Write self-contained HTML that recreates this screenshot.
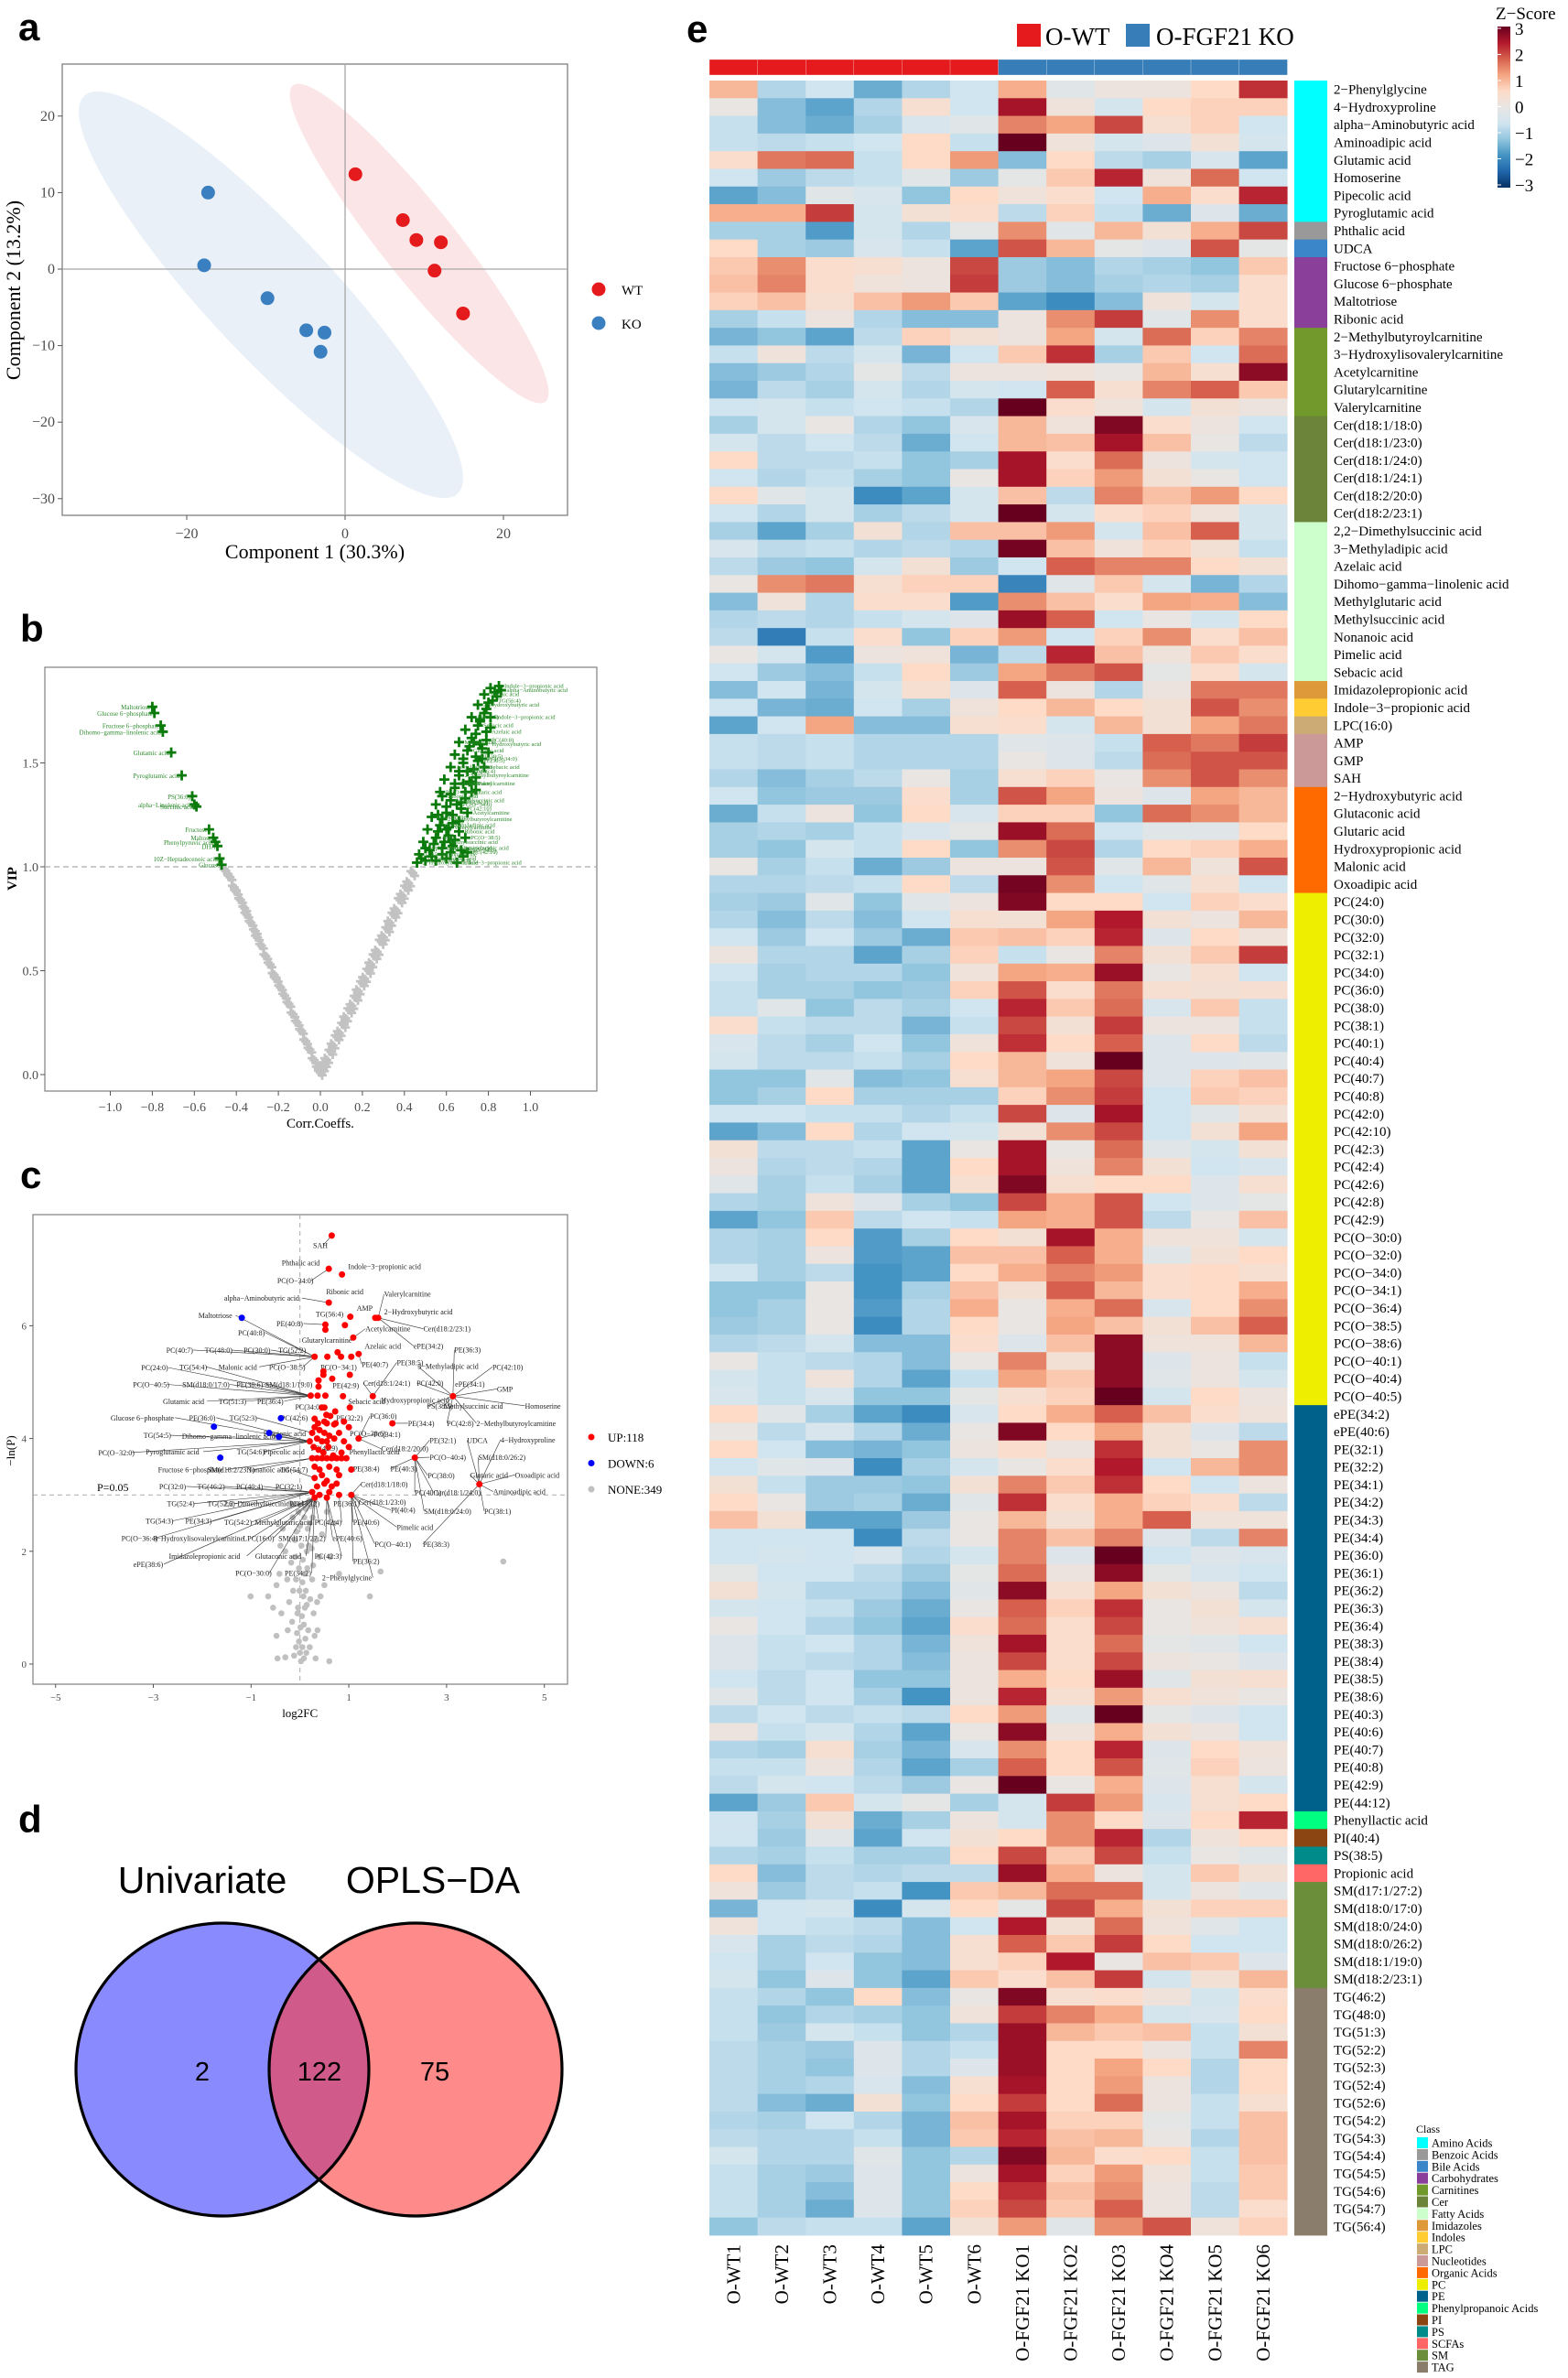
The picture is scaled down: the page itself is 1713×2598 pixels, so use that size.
<!DOCTYPE html>
<html><head><meta charset="utf-8"><title>Metabolomics figure</title>
<style>
html,body{margin:0;padding:0;background:#fff;}
svg{display:block;}
</style></head>
<body>
<svg id="fig" width="1713" height="2598" viewBox="0 0 1713 2598" xmlns="http://www.w3.org/2000/svg">
<rect x="0" y="0" width="1713" height="2598" fill="#fff"/>
<g font-family="Liberation Sans, DejaVu Sans, sans-serif" font-weight="bold" font-size="42" fill="#000">
<text x="20" y="44">a</text>
<text x="22" y="701">b</text>
<text x="22" y="1298">c</text>
<text x="20" y="2002">d</text>
<text x="750" y="46">e</text>
</g>
<g id="pa"></g>
<g id="pb"></g>
<g id="pc"></g>
<g id="pd"></g>
<g id="pe"></g>
</svg>
<script>
// ---------- Panel a data ----------
const aWTx=[1.3,7.3,9.0,12.1,11.3,14.9];
const aWTy=[12.4,6.4,3.8,3.5,-0.2,-5.8];
const aKOx=[-17.3,-17.8,-9.8,-4.9,-2.6,-3.1];
const aKOy=[10.0,0.5,-3.8,-8.0,-8.3,-10.8];
const aXTicks=[-20,0,20];
const aYTicks=[20,10,0,-10,-20,-30];
// ---------- Panel b data ----------
const bGreyCorr=[-0.45,-0.43,-0.41,-0.40,-0.38,-0.36,-0.35,-0.33,-0.31,-0.30,-0.28,-0.26,-0.24,-0.22,-0.21,-0.19,-0.17,-0.15,-0.13,-0.11,-0.09,-0.07,-0.05,-0.03,-0.01,0.0,0.01,0.02,0.03,0.05,0.06,0.08,0.09,0.11,0.12,0.14,0.15,0.17,0.18,0.20,0.21,0.23,0.24,0.26,0.27,0.29,0.30,0.32,0.33,0.35,0.36,0.38,0.39,0.41,0.42,0.44];
const bGreyVip=[0.98,0.95,0.90,0.88,0.84,0.80,0.77,0.73,0.69,0.66,0.62,0.57,0.53,0.48,0.46,0.42,0.38,0.34,0.29,0.25,0.21,0.16,0.12,0.07,0.03,0.01,0.03,0.05,0.07,0.11,0.14,0.18,0.20,0.24,0.27,0.31,0.33,0.37,0.40,0.44,0.46,0.50,0.53,0.57,0.59,0.64,0.66,0.70,0.73,0.77,0.79,0.84,0.86,0.90,0.92,0.97];
const bLeftNames=["Maltotriose","Glucose 6−phosphate","Fructose 6−phosphate","Dihomo−gamma−linolenic acid","Glutamic acid","Pyroglutamic acid","PS(36:6)","alpha−Linolenic acid","Succinic acid","Fructose","Maltose","Phenylpyruvic acid","DHA","10Z−Heptadecenoic acid","Glucose"];
const bLeftCorr=[-0.80,-0.79,-0.76,-0.75,-0.71,-0.66,-0.61,-0.60,-0.59,-0.53,-0.51,-0.50,-0.49,-0.48,-0.47];
const bLeftVip=[1.77,1.74,1.68,1.65,1.55,1.44,1.34,1.30,1.29,1.18,1.14,1.12,1.10,1.04,1.01];
const bRightCorr=[0.46,0.50,0.55,0.60,0.65,0.68,0.47,0.52,0.58,0.63,0.67,0.49,0.55,0.61,0.66,0.51,0.57,0.63,0.53,0.60,0.67,0.55,0.62,0.69,0.57,0.64,0.72,0.59,0.66,0.74,0.62,0.68,0.75,0.64,0.70,0.77,0.66,0.72,0.79,0.69,0.75,0.81,0.72,0.78,0.75,0.80,0.78,0.83,0.85,0.81,0.70,0.60,0.50,0.56,0.65,0.73,0.68,0.62,0.58,0.76,
0.48,0.53,0.58,0.62,0.70,0.54,0.59,0.64,0.69,0.56,0.61,0.66,0.58,0.63,0.70,0.60,0.67,0.62,0.69,0.74,0.64,0.71,0.66,0.73,0.78,0.68,0.74,0.71,0.76,0.74,0.79,0.76,0.81,0.79,0.82,0.84,0.86,0.72,0.77,0.80];
const bRightVip=[1.02,1.03,1.03,1.04,1.02,1.05,1.06,1.08,1.09,1.10,1.08,1.12,1.14,1.15,1.17,1.18,1.20,1.21,1.24,1.26,1.28,1.30,1.32,1.33,1.36,1.38,1.40,1.42,1.44,1.43,1.48,1.50,1.51,1.54,1.56,1.57,1.60,1.62,1.61,1.66,1.68,1.67,1.72,1.74,1.78,1.79,1.83,1.84,1.87,1.86,1.46,1.18,1.09,1.25,1.30,1.60,1.40,1.12,1.34,1.70,
1.04,1.05,1.06,1.07,1.07,1.11,1.12,1.13,1.14,1.17,1.19,1.22,1.23,1.25,1.26,1.29,1.31,1.35,1.36,1.37,1.40,1.41,1.46,1.47,1.48,1.52,1.53,1.58,1.59,1.64,1.65,1.71,1.72,1.76,1.80,1.82,1.85,1.36,1.52,1.55];
const bRightNames=["2−Hydroxybutyric acid","Azelaic acid","Indole−3−propionic acid","TG(56:4)","alpha−Aminobutyric acid","PC(O−34:0)","AMP","Ribonic acid","3−Methyladipic acid","Homoserine","PC(42:10)","Methylsuccinic acid","PC(O−38:5)","Valerylcarnitine","2−Methylbutyroylcarnitine","Acetylcarnitine","PE(36:3)","Glutaric acid","Malonic acid","PC(40:8)","Sebacic acid","PE(38:5)"];
const bXTicks=[-1.0,-0.8,-0.6,-0.4,-0.2,0.0,0.2,0.4,0.6,0.8,1.0];
const bYTicks=[0.0,0.5,1.0,1.5];
// ---------- Panel c data ----------
const cRedFc=[0.65,0.59,0.86,0.59,1.03,1.54,1.60,0.52,0.52,0.92,1.09,0.30,0.56,0.77,0.84,1.05,1.20,0.48,0.48,0.66,1.02,0.38,0.38,0.22,0.36,0.52,0.88,1.49,3.13,0.50,0.54,0.72,1.02,0.37,0.55,0.73,1.89,2.35,3.67,0.25,0.30,0.35,0.40,0.45,0.50,0.55,0.60,0.70,0.80,0.90,0.28,0.38,0.48,0.58,0.68,0.85,0.25,0.35,0.45,0.55,0.65,0.75,0.85,0.95,0.30,0.40,0.60,0.75,1.05,0.30,0.45,0.55,0.80,0.35,0.50,0.65,0.75,0.25,0.40,0.60,0.80,1.05,0.30,0.50,0.90,1.00,0.20,1.00,0.70,1.20,0.62,0.45,0.30,0.55];
const cRedP=[7.60,7.01,6.91,6.41,6.16,6.14,6.14,6.02,5.93,6.01,5.79,5.45,5.45,5.53,5.45,5.45,5.50,5.19,5.13,5.06,5.13,5.03,4.92,4.76,4.76,4.76,4.75,4.75,4.75,4.55,4.42,4.48,4.55,4.27,4.27,4.27,4.27,3.66,3.19,4.10,4.20,4.00,4.15,3.95,4.10,3.95,4.05,4.00,4.10,3.95,3.85,3.80,3.75,3.85,3.70,3.75,3.65,3.65,3.65,3.65,3.65,3.65,3.65,3.65,3.50,3.45,3.50,3.45,3.45,3.30,3.35,3.25,3.35,3.15,3.20,3.15,3.20,3.05,3.00,3.05,3.00,3.00,4.35,4.30,4.30,4.20,3.95,3.85,4.25,4.00,4.40,4.55,2.95,2.95];
const cBlueFc=[-1.19,-0.39,-1.76,-0.63,-0.43,-1.63];
const cBlueP=[6.14,4.36,4.21,4.10,4.03,3.66];
const cGreyFc=[-1.01,-0.65,-0.48,-0.55,-0.42,-0.38,-0.48,-0.46,-0.30,-0.25,-0.22,-0.18,-0.30,-0.35,-0.15,-0.10,-0.08,-0.05,-0.02,0.0,0.02,0.05,0.08,0.1,0.12,0.15,0.18,0.2,0.22,0.25,0.28,0.3,0.32,0.35,0.4,0.45,0.5,0.55,0.6,0.62,0.7,0.8,1.43,1.65,4.16,-0.12,-0.06,0.04,0.07,0.1,0.14,0.16,0.19,-0.2,-0.03,0.0,0.03,0.06,-0.01,-0.04,0.11,0.13,0.17,0.21,0.24,-0.1,-0.14,-0.16,0.26,0.3,-0.26,0.09,0.36,0.42,-0.4,0.01,0.08,-0.08,0.2,0.14,0.05,-0.02,0.27,0.33,-0.07,0.12];
const cGreyP=[1.2,1.2,1.4,1.0,1.6,0.9,0.5,0.1,0.12,0.6,1.1,1.8,2.0,2.4,2.6,2.2,1.5,0.9,0.4,0.2,0.05,0.3,0.7,1.0,1.3,1.7,2.1,2.5,2.8,1.5,0.9,0.5,0.1,1.1,1.9,2.3,1.4,2.7,0.05,1.9,2.5,1.6,1.2,1.64,1.82,0.15,0.55,0.85,1.2,1.6,2.0,2.4,2.9,2.85,2.7,2.45,2.1,1.85,1.3,1.0,0.45,0.2,0.6,1.15,2.05,1.9,1.3,0.75,2.6,2.9,1.5,2.6,0.6,1.2,2.1,0.65,0.1,0.3,0.3,1.05,1.45,1.7,1.75,2.2,2.35,2.75];
const cXTicks=[-5,-3,-1,1,3,5];
const cYTicks=[0,2,4,6];
const cLabelText=["SAH","Phthalic acid","Indole−3−propionic acid","PC(O−34:0)","Ribonic acid","Valerylcarnitine","alpha−Aminobutyric acid","AMP","2−Hydroxybutyric acid","Maltotriose","TG(56:4)","PE(40:8)","Acetylcarnitine","Cer(d18:2/23:1)","PC(40:8)","Glutarylcarnitine","Azelaic acid","ePE(34:2)","PE(36:3)","PC(40:7)","TG(48:0)","PC(30:0)","TG(52:2)","PC(24:0)","TG(54:4)","Malonic acid","PC(O−38:5)","PC(O−34:1)","PE(40:7)","PE(38:5)","3−Methyladipic acid","PC(42:10)","PC(O−40:5)","SM(d18:0/17:0)","PE(38:6)","SM(d18:1/19:0)","PE(42:9)","Cer(d18:1/24:1)","PC(42:0)","ePE(34:1)","GMP","Glutamic acid","TG(51:3)","PE(36:4)","Sebacic acid","Hydroxypropionic acid","PC(34:0)","PS(38:5)","Methylsuccinic acid","Homoserine","Glucose 6−phosphate","PE(36:0)","TG(52:3)","PC(42:6)","PE(32:2)","PC(36:0)","PE(34:4)","PC(42:8)","2−Methylbutyroylcarnitine","TG(54:5)","Dihomo−gamma−linolenic acid","Propionic acid","PC(O−38:6)","PC(34:1)","PE(32:1)","UDCA","4−Hydroxyproline","PC(O−32:0)","Pyroglutamic acid","TG(54:6)","Pipecolic acid","PC(42:9)","Phenyllactic acid","Cer(d18:2/20:0)","PC(O−40:4)","SM(d18:0/26:2)","Fructose 6−phosphate","SM(d18:2/23:1)","Nonanoic acid","TG(54:7)","PE(38:4)","PE(40:3)","PC(38:0)","Glutaric acid","Oxoadipic acid","PC(32:0)","TG(46:2)","PC(40:4)","PC(32:1)","Cer(d18:1/18:0)","PC(40:1)","Cer(d18:1/24:0)","Aminoadipic acid","TG(52:4)","TG(52:6)","2,2−Dimethylsuccinic acid","PE(44:12)","PE(36:1)","Cer(d18:1/23:0)","PI(40:4)","SM(d18:0/24:0)","PC(38:1)","TG(54:3)","PE(34:3)","TG(54:2)","Methylglutaric acid","PC(42:4)","PE(40:6)","Pimelic acid","PC(O−36:4)","3−Hydroxylisovalerylcarnitine","LPC(16:0)","SM(d17:1/27:2)","ePE(40:6)","PC(O−40:1)","PE(38:3)","Imidazolepropionic acid","Glutaconic acid","PC(42:3)","PE(36:2)","ePE(38:6)","PC(O−30:0)","PE(34:2)","2−Phenylglycine"];
const cLabelPos=[[838,400],[754,447],[932,457],[742,495],[873,524],[1028,531],[600,542],[955,568],[1028,578],[531,588],[845,584],[740,610],[978,624],[1133,624],[637,634],[808,654],[976,670],[1107,670],[1216,680],[445,681],[548,681],[652,681],[745,681],[378,728],[480,726],[585,726],[720,726],[858,726],[968,719],[1062,714],[1118,724],[1318,726],[356,773],[488,773],[633,773],[710,773],[890,776],[972,769],[1115,769],[1218,772],[1330,785],[436,818],[585,818],[688,818],[932,818],[1020,815],[790,833],[1143,831],[1188,831],[1405,830],[296,862],[506,862],[614,862],[752,862],[900,862],[990,858],[1092,877],[1196,877],[1275,877],[384,909],[487,911],[705,904],[936,904],[1000,907],[1150,922],[1250,922],[1340,921],[263,955],[390,953],[634,953],[705,953],[832,943],[935,953],[1020,945],[1150,968],[1280,968],[423,1001],[555,1001],[660,1001],[750,1001],[945,998],[1045,998],[1145,1017],[1258,1015],[1378,1015],[426,1046],[528,1046],[632,1046],[737,1046],[965,1040],[1110,1062],[1160,1062],[1320,1060],[447,1092],[555,1092],[600,1092],[775,1092],[892,1092],[960,1088],[1046,1109],[1135,1112],[1296,1112],[390,1138],[496,1138],[600,1142],[682,1142],[842,1142],[945,1142],[1062,1155],[325,1184],[410,1184],[650,1184],[745,1184],[890,1184],[1003,1200],[1132,1200],[452,1232],[683,1232],[842,1232],[945,1246],[357,1254],[630,1278],[762,1278],[862,1290]];
// ---------- Panel d data ----------
const vennNames=["Univariate","OPLS−DA"];
const vennCounts=[2,122,75];
// ---------- Panel e data ----------
const heatCols=["O-WT1","O-WT2","O-WT3","O-WT4","O-WT5","O-WT6","O-FGF21 KO1","O-FGF21 KO2","O-FGF21 KO3","O-FGF21 KO4","O-FGF21 KO5","O-FGF21 KO6"];
const heatGroups=[0,0,0,0,0,0,1,1,1,1,1,1];
const heatRows=["2−Phenylglycine","4−Hydroxyproline","alpha−Aminobutyric acid","Aminoadipic acid","Glutamic acid","Homoserine","Pipecolic acid","Pyroglutamic acid","Phthalic acid","UDCA","Fructose 6−phosphate","Glucose 6−phosphate","Maltotriose","Ribonic acid","2−Methylbutyroylcarnitine","3−Hydroxylisovalerylcarnitine","Acetylcarnitine","Glutarylcarnitine","Valerylcarnitine","Cer(d18:1/18:0)","Cer(d18:1/23:0)","Cer(d18:1/24:0)","Cer(d18:1/24:1)","Cer(d18:2/20:0)","Cer(d18:2/23:1)","2,2−Dimethylsuccinic acid","3−Methyladipic acid","Azelaic acid","Dihomo−gamma−linolenic acid","Methylglutaric acid","Methylsuccinic acid","Nonanoic acid","Pimelic acid","Sebacic acid","Imidazolepropionic acid","Indole−3−propionic acid","LPC(16:0)","AMP","GMP","SAH","2−Hydroxybutyric acid","Glutaconic acid","Glutaric acid","Hydroxypropionic acid","Malonic acid","Oxoadipic acid","PC(24:0)","PC(30:0)","PC(32:0)","PC(32:1)","PC(34:0)","PC(36:0)","PC(38:0)","PC(38:1)","PC(40:1)","PC(40:4)","PC(40:7)","PC(40:8)","PC(42:0)","PC(42:10)","PC(42:3)","PC(42:4)","PC(42:6)","PC(42:8)","PC(42:9)","PC(O−30:0)","PC(O−32:0)","PC(O−34:0)","PC(O−34:1)","PC(O−36:4)","PC(O−38:5)","PC(O−38:6)","PC(O−40:1)","PC(O−40:4)","PC(O−40:5)","ePE(34:2)","ePE(40:6)","PE(32:1)","PE(32:2)","PE(34:1)","PE(34:2)","PE(34:3)","PE(34:4)","PE(36:0)","PE(36:1)","PE(36:2)","PE(36:3)","PE(36:4)","PE(38:3)","PE(38:4)","PE(38:5)","PE(38:6)","PE(40:3)","PE(40:6)","PE(40:7)","PE(40:8)","PE(42:9)","PE(44:12)","Phenyllactic acid","PI(40:4)","PS(38:5)","Propionic acid","SM(d17:1/27:2)","SM(d18:0/17:0)","SM(d18:0/24:0)","SM(d18:0/26:2)","SM(d18:1/19:0)","SM(d18:2/23:1)","TG(46:2)","TG(48:0)","TG(51:3)","TG(52:2)","TG(52:3)","TG(52:4)","TG(52:6)","TG(54:2)","TG(54:3)","TG(54:4)","TG(54:5)","TG(54:6)","TG(54:7)","TG(56:4)"];
const heatClassIdx=[0,0,0,0,0,0,0,0,1,2,3,3,3,3,4,4,4,4,4,5,5,5,5,5,5,6,6,6,6,6,6,6,6,6,7,8,9,10,10,10,11,11,11,11,11,11,12,12,12,12,12,12,12,12,12,12,12,12,12,12,12,12,12,12,12,12,12,12,12,12,12,12,12,12,12,13,13,13,13,13,13,13,13,13,13,13,13,13,13,13,13,13,13,13,13,13,13,13,14,15,16,17,18,18,18,18,18,18,19,19,19,19,19,19,19,19,19,19,19,19,19,19];
const classNames=["Amino Acids","Benzoic Acids","Bile Acids","Carbohydrates","Carnitines","Cer","Fatty Acids","Imidazoles","Indoles","LPC","Nucleotides","Organic Acids","PC","PE","Phenylpropanoic Acids","PI","PS","SCFAs","SM","TAG"];
const classColors=["#00ffff","#999999","#3b86c8","#8a3f9a","#72992c","#6b843a","#ccffcc","#de9a3a","#ffcc33","#cdab75","#cc9999","#ff6a00","#eeee00","#00618a","#00ff80","#8b4513","#008b8b","#ff6666","#6b8e3a","#8b7d6b"];
const zTicks=[3,2,1,0,-1,-2,-3];
const heatValues=[
[1.0,-0.9,-0.6,-1.5,-0.9,-0.6,1.1,-0.2,0.1,0.1,0.6,2.2],
[0,-1.3,-1.6,-0.9,0.4,-0.6,2.5,0.2,-0.5,0.6,0.7,0.7],
[-0.7,-1.3,-1.5,-1.0,-0.4,-0.2,1.5,1.2,2.0,0.4,0.7,-0.6],
[-0.7,-0.8,-0.7,-0.6,0.6,-0.7,3.0,0.2,-0.5,-0.3,0.3,-0.5],
[0.5,1.6,1.7,-0.7,0.6,1.3,-1.3,0.6,-0.8,-1.0,-0.4,-1.6],
[-0.6,-1.1,-0.8,-0.7,-0.2,-1.1,-0.1,0.8,2.3,0.2,1.7,-0.6],
[-1.6,-1.3,-0.2,-0.4,-1.2,0.6,0.2,0.5,-0.6,1.1,0.5,2.3],
[1.1,1.1,2.1,-0.5,0.3,0.5,-0.8,0.7,-0.7,-1.5,-0.3,-1.5],
[-1.0,-1.0,-1.7,-0.5,-0.9,-0.1,1.4,-0.2,1.0,0.3,1.1,2.0],
[0.6,-1.0,-1.1,-0.4,-0.7,-1.6,1.9,1.0,-0.1,-0.3,1.9,-0.1],
[0.8,1.4,0.5,0.4,0.1,2.0,-1.1,-1.3,-0.9,-1.0,-1.2,0.8],
[0.9,1.5,0.5,0.2,0.1,2.1,-1.1,-1.3,-1.0,-0.9,-1.0,0.5],
[0.7,0.9,0.4,0.9,1.3,0.8,-1.6,-1.9,-1.3,0.2,-0.5,0.5],
[-1.0,-0.7,0.1,-0.9,-1.3,-1.3,0.1,1.4,2.1,-0.2,1.4,0.5],
[-1.4,-1.2,-1.6,-0.8,0.7,0.3,0.1,1.2,-0.5,1.7,0.7,1.5],
[-0.7,0.2,-0.8,-0.5,-1.4,-0.6,0.8,2.2,-1.0,0.8,-0.6,1.7],
[-1.3,-1.1,-0.9,-0.1,-0.8,0.1,0.1,0.2,0.0,1.0,0.4,2.7],
[-1.4,-0.8,-1.0,-0.5,-0.9,-0.5,-0.6,1.8,0.4,1.5,1.8,0.8],
[-0.6,-0.5,-0.7,-0.6,-0.7,-0.9,3.0,0.5,0.2,-0.5,0.3,0.1],
[-1.0,-0.5,0.0,-0.9,-1.2,-0.4,1.0,0.2,2.8,0.5,0.1,-0.6],
[-0.5,-0.8,-0.6,-0.8,-1.5,-0.6,1.0,0.9,2.5,0.9,0.0,-0.8],
[0.6,-0.8,-0.8,-0.7,-1.2,-1.0,2.5,0.5,1.7,0.1,-0.5,-0.6],
[-0.6,-0.9,-0.7,-1.0,-1.2,0.0,2.5,0.7,1.3,0.3,0.0,-0.6],
[0.6,-0.2,-0.5,-1.9,-1.6,-0.5,0.9,-0.8,1.5,0.9,1.3,0.6],
[-0.6,-0.9,-0.5,-1.0,-0.8,-0.5,3.0,-0.5,0.5,0.7,0.2,-0.5],
[-1.0,-1.6,-1.0,0.3,-0.9,0.9,0.9,1.3,-0.5,0.9,1.8,-0.5],
[-0.4,-0.8,-0.7,-0.9,-0.8,-0.9,2.9,0.9,0.2,0.7,0.3,-0.7],
[-0.8,-1.1,-1.2,-0.5,0.3,-1.1,-0.6,1.8,1.5,1.5,0.6,0.3],
[0.0,1.4,1.6,0.4,0.7,0.7,-2.0,-0.2,0.8,-0.5,-1.4,-0.9],
[-1.3,0.2,-0.9,0.5,0.5,-1.7,1.4,0.9,0.5,1.2,1.1,-1.3],
[-0.9,-0.8,-0.9,-0.7,-0.5,-0.3,2.6,1.8,-0.6,0.0,-0.5,0.6],
[-0.8,-2.1,-0.7,0.5,-1.2,0.7,1.3,-0.6,0.7,1.4,0.5,0.9],
[0.0,-0.5,-1.7,0.1,0.2,-1.4,-0.8,2.3,0.9,0.2,0.8,0.5],
[-0.6,-1.1,-1.3,-0.7,0.6,-1.1,1.2,1.6,1.9,-0.1,0.5,-0.5],
[-1.3,-0.6,-1.4,-0.5,0.4,-0.3,1.8,0.1,-0.9,0.1,1.6,1.6],
[-0.6,-1.4,-1.5,-0.6,-1.0,0.2,0.6,1.0,0.6,0.3,1.9,1.4],
[-1.6,-0.6,1.2,-1.3,-1.3,0.4,0.5,-0.5,1.0,0.3,1.2,1.6],
[-0.7,-0.8,-0.7,-0.9,-0.9,-0.9,-0.2,-0.3,-0.7,1.8,1.6,2.1],
[-0.7,-0.8,-0.7,-0.9,-0.9,-0.9,0.0,-0.3,-0.8,1.7,1.9,1.9],
[-0.9,-1.3,-1.0,-0.8,0.0,-1.0,0.4,0.7,0.0,1.4,1.9,1.4],
[-0.6,-1.2,-1.1,-1.1,0.5,-1.0,1.9,1.2,0.1,-0.3,1.2,1.0],
[-1.5,-0.7,0.1,-1.2,0.6,-0.4,0.7,0.7,-1.2,1.7,1.4,1.0],
[-1.0,-0.9,-1.0,-0.7,-0.4,-0.1,2.6,1.7,-0.6,-0.2,-0.2,0.6],
[-1.0,-1.2,-0.5,-0.7,0.6,-1.2,1.4,2.0,-0.9,0.6,0.7,1.1],
[0.0,-1.0,-0.7,-1.5,-1.1,0.1,0.1,1.9,-0.2,1.0,0.2,1.9],
[-0.9,-0.9,-0.8,-0.7,0.6,-0.8,2.9,1.4,-0.6,-0.2,0.4,-0.6],
[-1.0,-1.1,-0.2,-1.2,-0.2,0.1,2.8,0.6,0.6,-0.6,0.7,0.5],
[-0.9,-1.3,-0.8,-1.3,-0.6,0.4,0.3,1.2,2.4,0.3,0.1,1.0],
[-0.6,-1.1,-0.6,-1.1,-1.5,0.8,0.9,0.7,2.3,-0.3,0.6,0.2],
[0.1,-0.9,-0.9,-1.6,-1.0,0.7,-0.7,0.0,1.5,0.3,0.8,2.1],
[-0.6,-1.0,-0.9,-0.9,-1.2,0.2,1.2,1.1,2.6,0.0,0.4,-0.6],
[-0.7,-1.0,-1.0,-1.2,-1.1,0.7,1.9,0.5,1.6,0.4,0.3,0.4],
[-0.7,-0.2,-1.2,-0.8,-1.0,-0.6,2.3,0.8,1.7,-0.4,0.8,-0.7],
[0.5,-0.7,-0.8,-0.8,-1.4,-0.7,2.0,0.3,2.1,0.1,0.1,-0.7],
[-0.4,-0.8,-1.0,-0.6,-1.2,0.2,2.2,0.6,1.8,-0.3,0.6,-0.8],
[-0.5,-0.8,-0.8,-0.7,-1.0,0.6,1.0,0.2,3.0,-0.3,-0.3,-0.2],
[-1.2,-1.2,-0.2,-1.3,-1.2,0.4,1.0,1.2,2.0,-0.3,0.7,0.9],
[-1.2,-1.0,0.6,-1.0,-1.0,-1.0,0.7,1.4,2.1,-0.6,0.8,0.7],
[-0.6,-0.6,-0.7,-0.7,-0.9,-0.7,2.0,-0.3,2.5,-0.6,-0.2,0.3],
[-1.6,-1.3,0.6,-0.9,-0.6,-0.5,0.3,1.4,2.0,-0.6,0.3,1.2],
[0.3,-0.8,-0.8,-0.7,-1.6,0.0,2.5,0.0,1.7,-0.2,-0.5,0.3],
[0.1,-0.9,-0.8,-0.9,-1.6,0.6,2.5,0.2,1.5,0.3,-0.6,-0.4],
[-0.2,-1.0,-0.7,-1.0,-1.6,0.4,2.8,0.4,0.6,0.6,-0.3,0.4],
[-0.9,-1.0,0.2,-0.3,-1.0,-1.2,2.0,1.1,1.9,-0.6,-0.3,-0.1],
[-1.6,-1.2,0.8,-0.8,-0.6,-0.7,1.2,1.1,1.9,-0.8,0.0,0.9],
[-0.9,-1.0,0.6,-1.7,-1.0,0.6,0.3,2.5,1.1,0.2,0.2,-0.5],
[-0.9,-1.0,0.1,-1.7,-1.6,0.9,0.9,1.8,1.1,-0.2,0.3,0.6],
[-0.6,-1.0,-0.8,-1.8,-1.6,0.6,1.1,1.5,1.3,0.5,0.6,0.4],
[-1.2,-1.2,0.0,-1.8,-1.0,0.9,0.3,1.8,1.0,0.5,0.6,1.1],
[-1.2,-1.0,0.0,-1.7,-0.9,1.1,0.0,1.1,1.7,-0.4,0.6,1.4],
[-1.1,-1.0,0.0,-1.9,-0.9,0.6,0.0,1.2,0.9,0.3,0.9,1.8],
[-0.9,-0.8,-0.5,-1.3,-1.3,0.5,-0.3,0.9,2.7,0.2,0.2,1.0],
[0.0,-0.7,-0.8,-0.9,-1.3,0.0,1.5,0.3,2.7,-0.3,0.1,-0.7],
[-0.5,-0.7,0.2,-0.9,-1.6,-0.7,1.2,0.8,2.7,-0.2,0.1,-0.5],
[-0.4,-0.7,-0.4,-1.2,-1.2,-0.1,0.4,0.7,3.0,-0.5,0.6,0.1],
[0.6,-0.2,-1.0,-1.6,-1.9,-0.4,0.6,1.1,1.8,0.9,0.5,0.2],
[0.0,-0.8,-0.4,-0.9,-1.5,0.0,2.8,0.6,1.2,0.3,-0.3,-0.8],
[0.6,-0.6,-1.3,-1.4,-1.2,0.1,0.5,0.1,2.2,0.3,0.0,1.4],
[-0.6,-0.2,-0.3,-1.9,-1.0,-0.5,0.0,0.5,2.4,-0.6,1.0,1.4],
[0.3,-0.7,-1.1,-1.1,-1.2,0.3,1.5,0.8,2.2,0.6,-0.6,0.1],
[0.6,0.0,-1.1,-1.0,-1.5,-0.2,2.2,0.5,1.1,0.7,0.5,-0.8],
[0.9,0.3,-1.6,-1.6,-1.1,0.0,1.0,0.3,1.1,1.8,0.2,0.2],
[-0.6,-0.6,-0.6,-1.9,-0.8,0.0,1.5,0.9,1.5,-0.3,-0.8,1.5],
[-0.6,-0.5,-0.6,-0.4,-0.9,-0.5,1.5,-0.3,3.0,-0.6,-0.3,-0.4],
[-0.1,-0.6,-0.6,-0.8,-1.1,-0.1,1.7,0.1,2.7,-0.1,-0.4,-0.6],
[0.3,-0.5,-0.9,-0.9,-1.3,-0.2,2.7,0.4,1.2,0.3,0.1,-0.8],
[-0.5,-0.6,-0.7,-1.1,-1.5,0.0,1.8,0.7,2.2,0.0,0.3,-0.5],
[0.0,-0.6,-0.9,-1.2,-1.6,0.5,1.7,0.5,2.0,0.0,0.2,0.4],
[-0.3,-0.7,-0.6,-0.9,-1.4,0.2,2.5,0.5,1.7,-0.1,-0.2,-0.6],
[-0.3,-0.7,-0.8,-0.9,-1.3,0.1,2.0,0.5,2.0,0.1,0.0,-0.3],
[-0.6,-0.8,-0.6,-1.2,-1.2,0.1,1.1,0.6,2.6,-0.2,0.3,0.4],
[-0.2,-0.8,-0.6,-1.0,-1.8,0.1,2.3,0.4,1.3,0.4,0.2,0.0],
[-0.8,-0.6,-0.8,-0.7,-0.8,0.6,1.3,-0.2,3.0,-0.1,-0.3,-0.6],
[0.1,-0.7,-0.5,-0.9,-1.6,0.0,2.7,0.2,1.1,0.3,0.1,-0.6],
[-0.9,-1.0,0.4,-1.0,-1.4,-0.4,1.4,0.6,2.3,-0.3,0.6,0.2],
[-0.7,-0.7,0.1,-0.9,-1.6,-1.0,1.8,0.6,1.9,-0.2,0.7,0.1],
[-0.8,-0.5,-0.6,-0.8,-1.1,0.0,3.0,0.0,1.1,-0.3,0.4,-0.5],
[-1.6,-1.1,0.8,-0.5,-0.1,-1.0,-0.5,2.1,1.3,-0.4,0.4,0.6],
[-0.6,-1.0,0.3,-1.5,-1.0,0.1,-0.5,1.4,0.6,-0.3,0.6,2.3],
[-0.6,-1.1,-0.2,-1.6,-0.6,0.3,0.6,1.4,2.3,-0.9,0.2,0.6],
[-0.9,-1.0,-0.7,-1.0,-1.0,0.6,2.0,0.8,2.0,-0.7,0.0,-0.2],
[0.6,-1.3,-0.8,-0.9,-0.8,-0.8,2.6,1.1,0.1,-0.5,0.8,0.3],
[0.2,-1.1,-0.8,-0.7,-1.8,0.8,1.0,1.7,1.7,-0.5,0.1,-0.2],
[-1.4,-0.6,-0.5,-1.9,-0.5,0.6,-0.1,2.0,1.1,0.3,0.7,0.7],
[0.2,-0.6,-0.7,-0.8,-1.3,-0.6,2.4,0.3,1.7,0.2,-0.2,-0.6],
[-0.4,-1.0,-0.8,-0.9,-1.3,0.4,1.8,0.8,2.1,0.6,-0.6,-0.6],
[-0.6,-1.0,-0.6,-1.2,-1.3,0.4,0.7,2.4,0.0,0.9,0.8,-0.3],
[-0.5,-1.2,-0.3,-1.2,-1.6,0.8,0.5,0.9,2.1,-0.5,0.3,1.0],
[-0.7,-0.9,-1.2,0.6,-1.3,0.0,2.8,0.4,0.5,0.2,-0.5,0.5],
[-0.7,-1.2,-0.9,-1.0,-1.2,0.2,2.1,1.5,1.1,-0.5,-0.4,0.6],
[-0.7,-1.1,-0.5,-0.7,-1.2,-0.9,2.6,1.0,0.8,0.9,-0.7,0.3],
[-0.8,-1.0,-1.1,-0.3,-0.9,-0.7,2.6,0.6,0.6,0.1,-0.7,1.5],
[-0.8,-1.0,-1.2,-0.3,-0.9,-0.3,2.6,0.6,1.2,0.6,-0.9,0.6],
[-0.8,-1.0,-0.9,-0.4,-1.3,0.4,2.5,0.6,1.3,0.1,-0.9,0.6],
[-0.8,-1.3,-1.5,0.3,-1.2,0.6,2.1,0.6,1.7,0.1,-0.7,0.4],
[-0.9,-1.0,-0.6,-0.9,-1.4,0.9,2.5,0.7,0.7,-0.1,-0.7,0.9],
[-0.8,-0.9,-0.9,-0.7,-1.4,0.8,2.3,0.9,1.0,0.0,-0.9,0.9],
[-0.5,-0.9,-0.9,-0.2,-1.2,-0.9,2.8,1.0,0.5,0.6,-0.7,0.9],
[-0.7,-1.0,-1.1,-0.3,-1.2,0.1,2.5,0.7,1.3,0.2,-0.7,0.8],
[-0.7,-1.0,-1.3,-0.3,-1.2,0.6,2.2,0.9,1.4,0.1,-0.8,0.8],
[-0.7,-1.0,-1.5,-0.3,-1.2,0.7,2.0,0.8,1.8,0.1,-0.8,0.5],
[-1.2,-0.8,-0.7,-0.7,-1.6,0.3,1.3,-0.2,1.4,1.9,0.2,0.7]
];

const NS="http://www.w3.org/2000/svg";
function mk(tag,attrs,parent,txt){const e=document.createElementNS(NS,tag);for(const k in attrs)e.setAttribute(k,attrs[k]);if(txt!==undefined)e.textContent=txt;parent.appendChild(e);return e;}
const SERIF='"Liberation Serif","DejaVu Serif",serif';
const SANS='"Liberation Sans","DejaVu Sans",sans-serif';

// ================= Panel a =================
(function(){
const g=document.getElementById('pa');
const xA=v=>377+8.65*v, yA=v=>294-8.36*v;
let el;
el=mk('rect',{x:68,y:70,width:552,height:493,fill:'#fff',stroke:'#7f7f7f','stroke-width':1.3},g);


el=mk('ellipse',{cx:296,cy:322,rx:298,ry:68,fill:'#dae6f3','fill-opacity':0.6,transform:'rotate(46.8 296 322)'},g);


el=mk('ellipse',{cx:458,cy:266,rx:221,ry:40,fill:'#f9d3d5','fill-opacity':0.6,transform:'rotate(51.4 458 266)'},g);


el=mk('line',{x1:xA(0),x2:xA(0),y1:70,y2:563,stroke:'#a6a6a6','stroke-width':1.3},g);


el=mk('line',{x1:68,x2:620,y1:yA(0),y2:yA(0),stroke:'#a6a6a6','stroke-width':1.3},g);


aXTicks.forEach(t=>{
 el=mk('line',{x1:xA(t),x2:xA(t),y1:563,y2:568,stroke:'#555'},g);
 
 
 el=mk('text',{x:xA(t),y:588,'text-anchor':'middle','font-family':SERIF,'font-size':16,fill:'#4d4d4d'},g,String(t).replace('-','−'));
 
 
});
aYTicks.forEach(t=>{
 el=mk('line',{x1:63,x2:68,y1:yA(t),y2:yA(t),stroke:'#555'},g);
 
 
 el=mk('text',{x:60,y:yA(t)+5,'text-anchor':'end','font-family':SERIF,'font-size':16,fill:'#4d4d4d'},g,String(t).replace('-','−'));
 
 
});
el=mk('text',{x:344,y:610,'text-anchor':'middle','font-family':SERIF,'font-size':22},g,'Component 1 (30.3%)');


el=mk('text',{x:0,y:0,'text-anchor':'middle','font-family':SERIF,'font-size':22,transform:'translate(22 317) rotate(-90)'},g,'Component 2 (13.2%)');


aKOx.forEach((v,i)=>{
 el=mk('circle',{cx:xA(v),cy:yA(aKOy[i]),r:7.5,fill:'#3a7fbf'},g);
 
 
});
aWTx.forEach((v,i)=>{
 el=mk('circle',{cx:xA(v),cy:yA(aWTy[i]),r:7.5,fill:'#e41a1c'},g);
 
 
});
el=mk('circle',{cx:654,cy:316,r:7.5,fill:'#e41a1c'},g);


el=mk('text',{x:679,y:322,'font-family':SERIF,'font-size':15},g,'WT');


el=mk('circle',{cx:654,cy:353,r:7.5,fill:'#3a7fbf'},g);


el=mk('text',{x:679,y:359,'font-family':SERIF,'font-size':15},g,'KO');


})();

// ================= Panel b =================
(function(){
const g=document.getElementById('pb');
const xB=v=>350+229.5*v, yB=v=>1174-227*v;
let el;
el=mk('rect',{x:49,y:729,width:603,height:463,fill:'#fff',stroke:'#7f7f7f','stroke-width':1.2},g);


el=mk('line',{x1:49,x2:652,y1:yB(1),y2:yB(1),stroke:'#aaa','stroke-width':1.2,'stroke-dasharray':'6 4'},g);


function plus(x,y,col,name,s,w){
 const p=mk('path',{d:`M${x-s},${y}H${x+s}M${x},${y-s}V${y+s}`,stroke:col,'stroke-width':w,fill:'none'},g);
 
 
}
bGreyCorr.forEach((v,i)=>{plus(xB(v),yB(bGreyVip[i]),'#c2c2c2','nonsignificant-point',5,2.8);});
bGreyCorr.forEach((v,i)=>{plus(xB(v)+2,yB(bGreyVip[i])+3,'#c2c2c2','nonsignificant-point',5,2.8);});
bGreyCorr.forEach((v,i)=>{plus(xB(v)-2,yB(bGreyVip[i])-2,'#c2c2c2','nonsignificant-point',5,2.8);});
bRightCorr.forEach((v,i)=>{plus(xB(v),yB(bRightVip[i]),'#0a7a0a','vip-positive-point',5.5,2.8);});
bRightCorr.forEach((v,i)=>{
 if(i%2===0){
  const nm=bRightNames[(i/2)%bRightNames.length|0];
  el=mk('text',{x:xB(v)+6,y:yB(bRightVip[i])+2,'font-family':SERIF,'font-size':6.5,fill:'#2d8a2d'},g,nm);
  
  
 }
});
bLeftCorr.forEach((v,i)=>{
 plus(xB(v),yB(bLeftVip[i]),'#0a7a0a','vip-negative-point',5.5,2.8);
 el=mk('text',{x:xB(v)-2,y:yB(bLeftVip[i])+3,'text-anchor':'end','font-family':SERIF,'font-size':7,fill:'#2d8a2d'},g,bLeftNames[i]);
 
 
});
bXTicks.forEach(t=>{
 el=mk('line',{x1:xB(t),x2:xB(t),y1:1192,y2:1197,stroke:'#555'},g);
 
 
 el=mk('text',{x:xB(t),y:1214,'text-anchor':'middle','font-family':SERIF,'font-size':14,fill:'#4d4d4d'},g,t.toFixed(1).replace('-','−'));
 
 
});
bYTicks.forEach(t=>{
 el=mk('line',{x1:44,x2:49,y1:yB(t),y2:yB(t),stroke:'#555'},g);
 
 
 el=mk('text',{x:42,y:yB(t)+5,'text-anchor':'end','font-family':SERIF,'font-size':14,fill:'#4d4d4d'},g,t.toFixed(1));
 
 
});
el=mk('text',{x:350,y:1232,'text-anchor':'middle','font-family':SERIF,'font-size':15},g,'Corr.Coeffs.');


el=mk('text',{x:0,y:0,'text-anchor':'middle','font-family':SERIF,'font-size':15,'font-weight':'bold',transform:'translate(18 960) rotate(-90)'},g,'VIP');


})();

// ================= Panel c =================
(function(){
const g=document.getElementById('pc');
const xC=v=>327.7+53.4*v, yC=v=>1818-61.6*v;
let el;
el=mk('rect',{x:36,y:1327,width:584,height:513,fill:'#fff',stroke:'#7f7f7f','stroke-width':1.2},g);


el=mk('line',{x1:xC(0),x2:xC(0),y1:1327,y2:1840,stroke:'#aaa','stroke-width':1,'stroke-dasharray':'5 4'},g);


el=mk('line',{x1:36,x2:620,y1:yC(3.0),y2:yC(3.0),stroke:'#aaa','stroke-width':1,'stroke-dasharray':'5 4'},g);


el=mk('text',{x:106,y:1629,'font-family':SERIF,'font-size':12},g,'P=0.05');


cGreyFc.forEach((v,i)=>{
 el=mk('circle',{cx:xC(v),cy:yC(cGreyP[i]),r:3.3,fill:'#c0c0c0'},g);
 
 
});
const lg=mk('g',{},g);


cLabelText.forEach((t,i)=>{
 const lx=cLabelPos[i][0]/2.45, ly=1200+cLabelPos[i][1]/2.45;
 const w=t.length*3.7;
 const ax=lx<xC(0.5)?lx+w:lx;
 let best=0,bd=1e9;
 cRedFc.forEach((v,j)=>{const d=Math.hypot(xC(v)-ax,yC(cRedP[j])-ly);if(d<bd){bd=d;best=j;}});
 if(bd>12){
  el=mk('line',{x1:ax,y1:ly-3,x2:xC(cRedFc[best]),y2:yC(cRedP[best]),stroke:'#333','stroke-width':0.6},lg);
  
  
 }
 el=mk('text',{x:lx,y:ly,'font-family':SERIF,'font-size':8,fill:'#222'},lg,t);
 
 
});
cRedFc.forEach((v,i)=>{
 el=mk('circle',{cx:xC(v),cy:yC(cRedP[i]),r:3.5,fill:'#ff0000'},g);
 
 
});
cBlueFc.forEach((v,i)=>{
 el=mk('circle',{cx:xC(v),cy:yC(cBlueP[i]),r:3.5,fill:'#0000ff'},g);
 
 
});
cXTicks.forEach(t=>{
 el=mk('line',{x1:xC(t),x2:xC(t),y1:1840,y2:1844,stroke:'#555'},g);
 
 
 el=mk('text',{x:xC(t),y:1858,'text-anchor':'middle','font-family':SERIF,'font-size':11,fill:'#4d4d4d'},g,String(t).replace('-','−'));
 
 
});
cYTicks.forEach(t=>{
 el=mk('line',{x1:32,x2:36,y1:yC(t),y2:yC(t),stroke:'#555'},g);
 
 
 el=mk('text',{x:29,y:yC(t)+4,'text-anchor':'end','font-family':SERIF,'font-size':11,fill:'#4d4d4d'},g,String(t));
 
 
});
el=mk('text',{x:xC(0),y:1876,'text-anchor':'middle','font-family':SERIF,'font-size':13},g,'log2FC');


el=mk('text',{x:0,y:0,'text-anchor':'middle','font-family':SERIF,'font-size':13,transform:'translate(16 1585) rotate(-90)'},g,'−ln(P)');


const leg=[['#ff0000','UP:118'],['#0000ff','DOWN:6'],['#c0c0c0','NONE:349']];
leg.forEach((d,i)=>{
 el=mk('circle',{cx:646,cy:1570+28.5*i,r:3.5,fill:d[0]},g);
 
 
 el=mk('text',{x:664,y:1575+28.5*i,'font-family':SERIF,'font-size':13},g,d[1]);
 
 
});
})();

// ================= Panel d =================
(function(){
const g=document.getElementById('pd');
let el;
const cx1=243,cx2=454,cy=2261,r=160;
const defs=mk('defs',{},g);
const cp=mk('clipPath',{id:'clipL'},defs);
mk('circle',{cx:cx1,cy:cy,r:r},cp);
el=mk('circle',{cx:cx1,cy:cy,r:r,fill:'#8a8aff'},g);


el=mk('circle',{cx:cx2,cy:cy,r:r,fill:'#ff8a8a'},g);


el=mk('circle',{cx:cx2,cy:cy,r:r,fill:'#d05a8a','clip-path':'url(#clipL)'},g);


el=mk('circle',{cx:cx1,cy:cy,r:r,fill:'none',stroke:'#000','stroke-width':3.2},g);


el=mk('circle',{cx:cx2,cy:cy,r:r,fill:'none',stroke:'#000','stroke-width':3.2},g);


el=mk('text',{x:221,y:2068,'text-anchor':'middle','font-family':SANS,'font-size':41},g,vennNames[0]);


el=mk('text',{x:473,y:2068,'text-anchor':'middle','font-family':SANS,'font-size':41},g,vennNames[1]);


[[221,vennCounts[0]],[349,vennCounts[1]],[475,vennCounts[2]]].forEach(d=>{
 el=mk('text',{x:d[0],y:2273,'text-anchor':'middle','font-family':SANS,'font-size':29},g,String(d[1]));
 
 
});
})();

// ================= Panel e =================
(function(){
const g=document.getElementById('pe');
let el;
const x0=775,cw=52.6,y0=88,rh=19.295;
const stops=[[-3,[5,48,97]],[-2.4,[33,102,172]],[-1.8,[67,147,195]],[-1.2,[146,197,222]],[-0.6,[209,229,240]],[0,[232,229,227]],[0.6,[253,219,199]],[1.2,[244,165,130]],[1.8,[214,96,77]],[2.4,[178,24,43]],[3,[103,0,31]]];
function col(v){v=Math.max(-3,Math.min(3,v));for(let i=0;i<stops.length-1;i++){const a=stops[i],b=stops[i+1];if(v<=b[0]){const t=(v-a[0])/(b[0]-a[0]);const c=a[1].map((q,k)=>Math.round(q+(b[1][k]-q)*t));return `rgb(${c[0]},${c[1]},${c[2]})`;}}return 'rgb(103,0,31)';}
heatGroups.forEach((gr,j)=>{
 el=mk('rect',{x:x0+j*cw,y:65,width:cw+0.3,height:17,fill:gr?'#377eb8':'#e41a1c',stroke:'#fff','stroke-width':0.3},g);
 
 
});
el=mk('rect',{x:1111,y:26,width:26,height:25,fill:'#e41a1c'},g);


el=mk('text',{x:1142,y:49,'font-family':SERIF,'font-size':27},g,'O-WT');


el=mk('rect',{x:1230,y:26,width:26,height:25,fill:'#377eb8'},g);


el=mk('text',{x:1263,y:49,'font-family':SERIF,'font-size':27},g,'O-FGF21 KO');


heatValues.forEach((row,i)=>{
 row.forEach((v,j)=>{
  el=mk('rect',{x:x0+j*cw,y:y0+i*rh,width:cw+0.4,height:rh+0.4,fill:col(v)},g);
  
  
 });
 el=mk('rect',{x:1414,y:y0+i*rh,width:36,height:rh+0.4,fill:classColors[heatClassIdx[i]]},g);
 
 
 el=mk('text',{x:1457,y:y0+i*rh+rh/2+5,'font-family':SERIF,'font-size':15},g,heatRows[i]);
 
 
});
heatCols.forEach((c,j)=>{
 const cx=x0+j*cw+cw/2+7;
 el=mk('text',{x:0,y:0,'text-anchor':'end','font-family':SERIF,'font-size':21,transform:`translate(${cx} 2452) rotate(-90)`},g,c);
 
 
});
const lgd=mk('defs',{},g);
const lin=mk('linearGradient',{id:'zgrad',x1:0,y1:0,x2:0,y2:1},lgd);
for(let k=stops.length-1;k>=0;k--){mk('stop',{offset:((3-stops[k][0])/6).toFixed(3),'stop-color':`rgb(${stops[k][1].join(',')})`},lin);}
el=mk('rect',{x:1636,y:29,width:14,height:176,fill:'url(#zgrad)'},g);


el=mk('text',{x:1634,y:21,'font-family':SERIF,'font-size':19},g,'Z−Score');


zTicks.forEach(t=>{
 const y=29+(3-t)/6*171+2;
 el=mk('line',{x1:1636,x2:1640,y1:y,y2:y,stroke:'#fff','stroke-width':1},g);
 
 
 el=mk('text',{x:1655,y:y+7,'font-family':SERIF,'font-size':19},g,String(t).replace('-','−'));
 
 
});
el=mk('text',{x:1547,y:2330,'font-family':SERIF,'font-size':12},g,'Class');


classNames.forEach((n,k)=>{
 const y=2335+k*12.9;
 el=mk('rect',{x:1548,y:y,width:12,height:12,fill:classColors[k]},g);
 
 
 el=mk('text',{x:1564,y:y+10.5,'font-family':SERIF,'font-size':12.5},g,n);
 
 
});
})();
</script>
</body></html>
